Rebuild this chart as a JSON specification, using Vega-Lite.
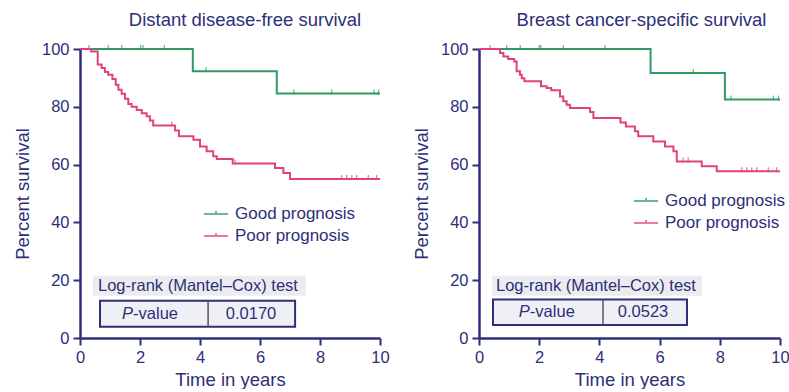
{
  "$schema": "https://vega.github.io/schema/vega-lite/v6.json",
  "background": "white",
  "padding": {"left": 13, "top": 10, "right": 0, "bottom": 0},
  "datasets": {
    "curves": [
      {"panel": "DDFS", "group": "Good prognosis", "t": 0, "s": 100},
      {"panel": "DDFS", "group": "Good prognosis", "t": 3.76, "s": 92.3},
      {"panel": "DDFS", "group": "Good prognosis", "t": 6.56, "s": 84.6},
      {"panel": "DDFS", "group": "Good prognosis", "t": 10, "s": 84.6},
      {"panel": "DDFS", "group": "Poor prognosis", "t": 0, "s": 100},
      {"panel": "DDFS", "group": "Poor prognosis", "t": 0.37, "s": 99.1},
      {"panel": "DDFS", "group": "Poor prognosis", "t": 0.59, "s": 94.6},
      {"panel": "DDFS", "group": "Poor prognosis", "t": 0.72, "s": 93.4},
      {"panel": "DDFS", "group": "Poor prognosis", "t": 0.83, "s": 92.0},
      {"panel": "DDFS", "group": "Poor prognosis", "t": 0.94, "s": 91.1},
      {"panel": "DDFS", "group": "Poor prognosis", "t": 1.08, "s": 89.6},
      {"panel": "DDFS", "group": "Poor prognosis", "t": 1.19, "s": 87.6},
      {"panel": "DDFS", "group": "Poor prognosis", "t": 1.28, "s": 85.9},
      {"panel": "DDFS", "group": "Poor prognosis", "t": 1.39, "s": 84.5},
      {"panel": "DDFS", "group": "Poor prognosis", "t": 1.5, "s": 82.8},
      {"panel": "DDFS", "group": "Poor prognosis", "t": 1.61, "s": 81.0},
      {"panel": "DDFS", "group": "Poor prognosis", "t": 1.72, "s": 80.0},
      {"panel": "DDFS", "group": "Poor prognosis", "t": 1.89, "s": 78.9},
      {"panel": "DDFS", "group": "Poor prognosis", "t": 2.06, "s": 77.8},
      {"panel": "DDFS", "group": "Poor prognosis", "t": 2.22, "s": 76.7},
      {"panel": "DDFS", "group": "Poor prognosis", "t": 2.33, "s": 75.3},
      {"panel": "DDFS", "group": "Poor prognosis", "t": 2.44, "s": 73.5},
      {"panel": "DDFS", "group": "Poor prognosis", "t": 3.17, "s": 71.8},
      {"panel": "DDFS", "group": "Poor prognosis", "t": 3.3, "s": 69.8},
      {"panel": "DDFS", "group": "Poor prognosis", "t": 3.78, "s": 68.6},
      {"panel": "DDFS", "group": "Poor prognosis", "t": 4.0, "s": 66.3},
      {"panel": "DDFS", "group": "Poor prognosis", "t": 4.22, "s": 64.6},
      {"panel": "DDFS", "group": "Poor prognosis", "t": 4.44, "s": 62.9},
      {"panel": "DDFS", "group": "Poor prognosis", "t": 4.56, "s": 61.9},
      {"panel": "DDFS", "group": "Poor prognosis", "t": 5.09, "s": 60.4},
      {"panel": "DDFS", "group": "Poor prognosis", "t": 6.5, "s": 58.8},
      {"panel": "DDFS", "group": "Poor prognosis", "t": 6.78, "s": 57.1},
      {"panel": "DDFS", "group": "Poor prognosis", "t": 7.0, "s": 55.0},
      {"panel": "DDFS", "group": "Poor prognosis", "t": 10, "s": 55.0},
      {"panel": "BCSS", "group": "Good prognosis", "t": 0, "s": 100},
      {"panel": "BCSS", "group": "Good prognosis", "t": 5.7, "s": 91.7},
      {"panel": "BCSS", "group": "Good prognosis", "t": 8.17, "s": 82.5},
      {"panel": "BCSS", "group": "Good prognosis", "t": 10, "s": 82.5},
      {"panel": "BCSS", "group": "Poor prognosis", "t": 0, "s": 100},
      {"panel": "BCSS", "group": "Poor prognosis", "t": 0.7, "s": 98.6},
      {"panel": "BCSS", "group": "Poor prognosis", "t": 0.81, "s": 97.4},
      {"panel": "BCSS", "group": "Poor prognosis", "t": 0.97, "s": 96.5},
      {"panel": "BCSS", "group": "Poor prognosis", "t": 1.17, "s": 95.7},
      {"panel": "BCSS", "group": "Poor prognosis", "t": 1.25, "s": 92.3},
      {"panel": "BCSS", "group": "Poor prognosis", "t": 1.36, "s": 91.1},
      {"panel": "BCSS", "group": "Poor prognosis", "t": 1.42, "s": 89.9},
      {"panel": "BCSS", "group": "Poor prognosis", "t": 1.51, "s": 88.8},
      {"panel": "BCSS", "group": "Poor prognosis", "t": 2.06, "s": 87.1},
      {"panel": "BCSS", "group": "Poor prognosis", "t": 2.25, "s": 86.5},
      {"panel": "BCSS", "group": "Poor prognosis", "t": 2.4, "s": 85.7},
      {"panel": "BCSS", "group": "Poor prognosis", "t": 2.69, "s": 83.6},
      {"panel": "BCSS", "group": "Poor prognosis", "t": 2.8, "s": 81.9},
      {"panel": "BCSS", "group": "Poor prognosis", "t": 2.91, "s": 80.7},
      {"panel": "BCSS", "group": "Poor prognosis", "t": 3.02, "s": 79.6},
      {"panel": "BCSS", "group": "Poor prognosis", "t": 3.69, "s": 78.2},
      {"panel": "BCSS", "group": "Poor prognosis", "t": 3.8, "s": 76.1},
      {"panel": "BCSS", "group": "Poor prognosis", "t": 4.7, "s": 74.6},
      {"panel": "BCSS", "group": "Poor prognosis", "t": 4.88, "s": 73.2},
      {"panel": "BCSS", "group": "Poor prognosis", "t": 5.18, "s": 71.5},
      {"panel": "BCSS", "group": "Poor prognosis", "t": 5.29, "s": 69.8},
      {"panel": "BCSS", "group": "Poor prognosis", "t": 5.79, "s": 68.0},
      {"panel": "BCSS", "group": "Poor prognosis", "t": 6.18, "s": 66.3},
      {"panel": "BCSS", "group": "Poor prognosis", "t": 6.46, "s": 64.6},
      {"panel": "BCSS", "group": "Poor prognosis", "t": 6.57, "s": 61.1},
      {"panel": "BCSS", "group": "Poor prognosis", "t": 7.4, "s": 59.4},
      {"panel": "BCSS", "group": "Poor prognosis", "t": 7.9, "s": 57.7},
      {"panel": "BCSS", "group": "Poor prognosis", "t": 10, "s": 57.7}
    ],
    "censored": [
      {"panel": "DDFS", "group": "Good prognosis", "t": 0.94, "s": 100},
      {"panel": "DDFS", "group": "Good prognosis", "t": 1.39, "s": 100},
      {"panel": "DDFS", "group": "Good prognosis", "t": 2.02, "s": 100},
      {"panel": "DDFS", "group": "Good prognosis", "t": 2.1, "s": 100},
      {"panel": "DDFS", "group": "Good prognosis", "t": 2.81, "s": 100},
      {"panel": "DDFS", "group": "Good prognosis", "t": 4.2, "s": 92.3},
      {"panel": "DDFS", "group": "Good prognosis", "t": 7.13, "s": 84.6},
      {"panel": "DDFS", "group": "Good prognosis", "t": 8.39, "s": 84.6},
      {"panel": "DDFS", "group": "Good prognosis", "t": 9.8, "s": 84.6},
      {"panel": "DDFS", "group": "Good prognosis", "t": 9.95, "s": 84.6},
      {"panel": "DDFS", "group": "Poor prognosis", "t": 0.3, "s": 100},
      {"panel": "DDFS", "group": "Poor prognosis", "t": 3.06, "s": 73.5},
      {"panel": "DDFS", "group": "Poor prognosis", "t": 5.17, "s": 60.4},
      {"panel": "DDFS", "group": "Poor prognosis", "t": 8.72, "s": 55.0},
      {"panel": "DDFS", "group": "Poor prognosis", "t": 8.89, "s": 55.0},
      {"panel": "DDFS", "group": "Poor prognosis", "t": 9.06, "s": 55.0},
      {"panel": "DDFS", "group": "Poor prognosis", "t": 9.22, "s": 55.0},
      {"panel": "DDFS", "group": "Poor prognosis", "t": 9.61, "s": 55.0},
      {"panel": "DDFS", "group": "Poor prognosis", "t": 9.89, "s": 55.0},
      {"panel": "BCSS", "group": "Good prognosis", "t": 0.92, "s": 100},
      {"panel": "BCSS", "group": "Good prognosis", "t": 1.37, "s": 100},
      {"panel": "BCSS", "group": "Good prognosis", "t": 2.0, "s": 100},
      {"panel": "BCSS", "group": "Good prognosis", "t": 2.06, "s": 100},
      {"panel": "BCSS", "group": "Good prognosis", "t": 2.8, "s": 100},
      {"panel": "BCSS", "group": "Good prognosis", "t": 4.19, "s": 100},
      {"panel": "BCSS", "group": "Good prognosis", "t": 7.12, "s": 91.7},
      {"panel": "BCSS", "group": "Good prognosis", "t": 8.37, "s": 82.5},
      {"panel": "BCSS", "group": "Good prognosis", "t": 9.78, "s": 82.5},
      {"panel": "BCSS", "group": "Good prognosis", "t": 9.95, "s": 82.5},
      {"panel": "BCSS", "group": "Poor prognosis", "t": 0.37, "s": 100},
      {"panel": "BCSS", "group": "Poor prognosis", "t": 6.78, "s": 61.1},
      {"panel": "BCSS", "group": "Poor prognosis", "t": 6.95, "s": 61.1},
      {"panel": "BCSS", "group": "Poor prognosis", "t": 8.73, "s": 57.7},
      {"panel": "BCSS", "group": "Poor prognosis", "t": 8.9, "s": 57.7},
      {"panel": "BCSS", "group": "Poor prognosis", "t": 9.06, "s": 57.7},
      {"panel": "BCSS", "group": "Poor prognosis", "t": 9.23, "s": 57.7},
      {"panel": "BCSS", "group": "Poor prognosis", "t": 9.61, "s": 57.7},
      {"panel": "BCSS", "group": "Poor prognosis", "t": 9.89, "s": 57.7}
    ],
    "logrank": [
      {"panel": "DDFS", "test": "Log-rank (Mantel–Cox) test", "pvalue": "0.0170"},
      {"panel": "BCSS", "test": "Log-rank (Mantel–Cox) test", "pvalue": "0.0523"}
    ]
  },
  "bounds": "flush",
  "spacing": 99,
  "resolve": {"legend": {"color": "independent"}},
  "hconcat": [
    {
      "width": 300,
      "height": 289,
      "title": {"text": "Distant disease-free survival", "dx": 15},
      "layer": [
        {
          "data": {"name": "logrank"},
          "transform": [{"filter": "datum.panel === 'DDFS'"}],
          "mark": {"type": "rect", "fill": "#ececf0"},
          "encoding": {
            "x": {"datum": 0.43, "type": "quantitative"},
            "x2": {"datum": 7.53},
            "y": {"datum": 14.6, "type": "quantitative"},
            "y2": {"datum": 21.5}
          }
        },
        {
          "data": {"name": "logrank"},
          "transform": [{"filter": "datum.panel === 'DDFS'"}],
          "mark": {"type": "text", "align": "left", "baseline": "middle", "fontSize": 16.5, "color": "#2d2f78"},
          "encoding": {
            "x": {"datum": 0.6, "type": "quantitative"},
            "y": {"datum": 18, "type": "quantitative"},
            "text": {"field": "test"}
          }
        },
        {
          "data": {"name": "logrank"},
          "transform": [{"filter": "datum.panel === 'DDFS'"}],
          "mark": {"type": "rect", "fill": "#eff0f5", "stroke": "#2d2f78", "strokeWidth": 2},
          "encoding": {
            "x": {"datum": 0.667, "type": "quantitative"},
            "x2": {"datum": 7.17},
            "y": {"datum": 3.9, "type": "quantitative"},
            "y2": {"datum": 12.9}
          }
        },
        {
          "data": {"name": "logrank"},
          "transform": [{"filter": "datum.panel === 'DDFS'"}],
          "mark": {"type": "rule", "color": "#55565e", "strokeWidth": 1.5},
          "encoding": {
            "x": {"datum": 4.27, "type": "quantitative"},
            "y": {"datum": 3.9, "type": "quantitative"},
            "y2": {"datum": 12.9}
          }
        },
        {
          "data": {"name": "logrank"},
          "transform": [{"filter": "datum.panel === 'DDFS'"}],
          "mark": {"type": "text", "align": "right", "baseline": "middle", "fontSize": 16.5, "fontStyle": "italic", "color": "#2d2f78", "text": "P"},
          "encoding": {
            "x": {"datum": 1.77, "type": "quantitative"},
            "y": {"datum": 8.4, "type": "quantitative"}
          }
        },
        {
          "data": {"name": "logrank"},
          "transform": [{"filter": "datum.panel === 'DDFS'"}],
          "mark": {"type": "text", "align": "left", "baseline": "middle", "fontSize": 16.5, "color": "#2d2f78", "text": "-value"},
          "encoding": {
            "x": {"datum": 1.77, "type": "quantitative"},
            "y": {"datum": 8.4, "type": "quantitative"}
          }
        },
        {
          "data": {"name": "logrank"},
          "transform": [{"filter": "datum.panel === 'DDFS'"}],
          "mark": {"type": "text", "align": "center", "baseline": "middle", "fontSize": 16.5, "color": "#2d2f78"},
          "encoding": {
            "x": {"datum": 5.7, "type": "quantitative"},
            "y": {"datum": 8.4, "type": "quantitative"},
            "text": {"field": "pvalue"}
          }
        },
        {
          "data": {"name": "curves"},
          "transform": [{"filter": "datum.panel === 'DDFS'"}],
          "mark": {"type": "line", "interpolate": "step-after", "strokeWidth": 2},
          "encoding": {
            "x": {"field": "t", "type": "quantitative", "scale": {"domain": [0, 10], "nice": false}, "axis": {"values": [0, 2, 4, 6, 8, 10], "title": "Time in years"}},
            "y": {"field": "s", "type": "quantitative", "scale": {"domain": [0, 100], "nice": false}, "axis": {"values": [0, 20, 40, 60, 80, 100], "title": "Percent survival"}},
            "color": {
              "field": "group",
              "type": "nominal",
              "scale": {"domain": ["Good prognosis", "Poor prognosis"], "range": ["#2f9a62", "#e2417f"]},
              "legend": {"legendX": 123, "legendY": 152}
            }
          }
        },
        {
          "data": {"name": "censored"},
          "transform": [{"filter": "datum.panel === 'DDFS'"}],
          "mark": {"type": "tick", "orient": "vertical", "size": 5, "thickness": 1.3, "yOffset": -1.5},
          "encoding": {
            "x": {"field": "t", "type": "quantitative"},
            "y": {"field": "s", "type": "quantitative"},
            "color": {"field": "group", "type": "nominal"}
          }
        }
      ]
    },
    {
      "width": 301,
      "height": 289,
      "title": {"text": "Breast cancer-specific survival", "dx": 12},
      "layer": [
        {
          "data": {"name": "logrank"},
          "transform": [{"filter": "datum.panel === 'BCSS'"}],
          "mark": {"type": "rect", "fill": "#ececf0"},
          "encoding": {
            "x": {"datum": 0.43, "type": "quantitative"},
            "x2": {"datum": 7.41},
            "y": {"datum": 14.6, "type": "quantitative"},
            "y2": {"datum": 21.5}
          }
        },
        {
          "data": {"name": "logrank"},
          "transform": [{"filter": "datum.panel === 'BCSS'"}],
          "mark": {"type": "text", "align": "left", "baseline": "middle", "fontSize": 16.5, "color": "#2d2f78"},
          "encoding": {
            "x": {"datum": 0.565, "type": "quantitative"},
            "y": {"datum": 18, "type": "quantitative"},
            "text": {"field": "test"}
          }
        },
        {
          "data": {"name": "logrank"},
          "transform": [{"filter": "datum.panel === 'BCSS'"}],
          "mark": {"type": "rect", "fill": "#eff0f5", "stroke": "#2d2f78", "strokeWidth": 2},
          "encoding": {
            "x": {"datum": 0.465, "type": "quantitative"},
            "x2": {"datum": 6.91},
            "y": {"datum": 4.5, "type": "quantitative"},
            "y2": {"datum": 13.3}
          }
        },
        {
          "data": {"name": "logrank"},
          "transform": [{"filter": "datum.panel === 'BCSS'"}],
          "mark": {"type": "rule", "color": "#55565e", "strokeWidth": 1.5},
          "encoding": {
            "x": {"datum": 4.12, "type": "quantitative"},
            "y": {"datum": 4.5, "type": "quantitative"},
            "y2": {"datum": 13.3}
          }
        },
        {
          "data": {"name": "logrank"},
          "transform": [{"filter": "datum.panel === 'BCSS'"}],
          "mark": {"type": "text", "align": "right", "baseline": "middle", "fontSize": 16.5, "fontStyle": "italic", "color": "#2d2f78", "text": "P"},
          "encoding": {
            "x": {"datum": 1.69, "type": "quantitative"},
            "y": {"datum": 8.9, "type": "quantitative"}
          }
        },
        {
          "data": {"name": "logrank"},
          "transform": [{"filter": "datum.panel === 'BCSS'"}],
          "mark": {"type": "text", "align": "left", "baseline": "middle", "fontSize": 16.5, "color": "#2d2f78", "text": "-value"},
          "encoding": {
            "x": {"datum": 1.69, "type": "quantitative"},
            "y": {"datum": 8.9, "type": "quantitative"}
          }
        },
        {
          "data": {"name": "logrank"},
          "transform": [{"filter": "datum.panel === 'BCSS'"}],
          "mark": {"type": "text", "align": "center", "baseline": "middle", "fontSize": 16.5, "color": "#2d2f78"},
          "encoding": {
            "x": {"datum": 5.45, "type": "quantitative"},
            "y": {"datum": 8.9, "type": "quantitative"},
            "text": {"field": "pvalue"}
          }
        },
        {
          "data": {"name": "curves"},
          "transform": [{"filter": "datum.panel === 'BCSS'"}],
          "mark": {"type": "line", "interpolate": "step-after", "strokeWidth": 2},
          "encoding": {
            "x": {"field": "t", "type": "quantitative", "scale": {"domain": [0, 10], "nice": false}, "axis": {"values": [0, 2, 4, 6, 8, 10], "title": "Time in years"}},
            "y": {"field": "s", "type": "quantitative", "scale": {"domain": [0, 100], "nice": false}, "axis": {"values": [0, 20, 40, 60, 80, 100], "title": "Percent survival"}},
            "color": {
              "field": "group",
              "type": "nominal",
              "scale": {"domain": ["Good prognosis", "Poor prognosis"], "range": ["#2f9a62", "#e2417f"]},
              "legend": {"legendX": 154, "legendY": 139}
            }
          }
        },
        {
          "data": {"name": "censored"},
          "transform": [{"filter": "datum.panel === 'BCSS'"}],
          "mark": {"type": "tick", "orient": "vertical", "size": 5, "thickness": 1.3, "yOffset": -1.5},
          "encoding": {
            "x": {"field": "t", "type": "quantitative"},
            "y": {"field": "s", "type": "quantitative"},
            "color": {"field": "group", "type": "nominal"}
          }
        }
      ]
    }
  ],
  "config": {
    "font": "Liberation Sans",
    "view": {"stroke": null},
    "axis": {
      "grid": false,
      "domainColor": "#2d2f78",
      "domainWidth": 2.5,
      "tickColor": "#2d2f78",
      "tickWidth": 2,
      "tickSize": 7,
      "labelColor": "#2d2f78",
      "labelFontSize": 16.5,
      "labelPadding": 4,
      "labelFlush": false,
      "titleColor": "#2d2f78",
      "titleFontSize": 18.5,
      "titleFontWeight": "normal"
    },
    "axisX": {"titlePadding": 5},
    "axisY": {"titlePadding": 9},
    "title": {"fontSize": 18.5, "fontWeight": "normal", "color": "#2d2f78", "anchor": "middle", "offset": 12},
    "legend": {
      "orient": "none",
      "title": null,
      "padding": 0,
      "labelFontSize": 17,
      "labelColor": "#2d2f78",
      "labelOffset": 6,
      "rowPadding": 1,
      "symbolType": "M-1,0H1M0,-0.25V0",
      "symbolSize": 576,
      "symbolStrokeWidth": 2,
      "symbolFillColor": "transparent"
    }
  }
}
